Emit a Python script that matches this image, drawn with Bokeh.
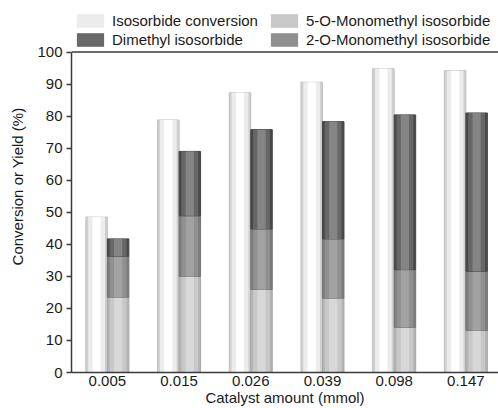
import numpy as np
from bokeh.plotting import figure
from bokeh.models import ColumnDataSource, Range1d, FixedTicker, Legend, LegendItem, Span
from bokeh.embed import file_html
from bokeh.resources import INLINE

# ---- data ----
catalyst = ["0.005", "0.015", "0.026", "0.039", "0.098", "0.147"]
conversion = [48.5, 78.8, 87.3, 90.6, 94.8, 94.2]
mono5 = [23.5, 30.0, 25.9, 23.2, 14.1, 13.1]
mono2 = [12.8, 18.9, 18.9, 18.5, 18.0, 18.5]
dimethyl = [5.4, 20.1, 31.0, 36.6, 48.3, 49.4]
y_ticks = [0, 10, 20, 30, 40, 50, 60, 70, 80, 90, 100]
Y_MAX = 100
Y_TOP = 116.1  # headroom above the frame line for the legend

FONT = "Liberation Sans"
idx = np.arange(len(catalyst))
bw = 0.3
x_conv = idx - bw / 2
x_stack = idx + bw / 2

m5 = np.array(mono5)
m2 = np.array(mono2)
dm = np.array(dimethyl)
src = ColumnDataSource(dict(
    xc=x_conv, xs=x_stack, conv=conversion,
    zero=np.zeros(len(idx)), t5=m5, t2=m5 + m2, td=m5 + m2 + dm,
))

p = figure(width=498, height=408, output_backend="svg", toolbar_location=None,
           x_range=Range1d(-0.5, 5.455), y_range=Range1d(0, Y_TOP),
           min_border_left=71, min_border_right=0, min_border_top=0, min_border_bottom=36)
p.grid.visible = False
p.outline_line_color = None
p.background_fill_color = "white"
p.border_fill_color = "white"

def shaded(x, bottom, top, base, mid, hl, line):
    p.vbar(x=x, bottom=bottom, top=top, width=bw, source=src,
           fill_color=base, line_color=line, line_width=1)
    r2 = p.vbar(x=x, bottom=bottom, top=top, width=bw * 0.78, source=src,
                fill_color=mid, line_color=None)
    p.vbar(x=x, bottom=bottom, top=top, width=bw * 0.38, source=src,
           fill_color=hl, line_color=None)
    return r2

r_conv = shaded("xc", "zero", "conv", "#d0d0d0", "#ececec", "#ffffff", "#c0c0c0")
r_m5 = shaded("xs", "zero", "t5", "#b4b4b4", "#c8c8c8", "#d8d8d8", "#a8a8a8")
r_m2 = shaded("xs", "t5", "t2", "#7c7c7c", "#909090", "#a2a2a2", "#747474")
r_dm = shaded("xs", "t2", "td", "#4a4a4a", "#676767", "#858585", "#444444")

p.add_layout(Span(location=Y_MAX, dimension="width", line_color="#3a3a3a", line_width=1.5))

# axes
p.xaxis.ticker = FixedTicker(ticks=list(idx))
p.xaxis.major_label_overrides = {int(i): c for i, c in zip(idx, catalyst)}
p.xaxis.major_tick_out = 0
p.xaxis.major_tick_in = 0
p.xaxis.minor_tick_line_color = None
p.xaxis.axis_label = "Catalyst amount (mmol)"
p.xaxis.major_label_standoff = 3
p.xaxis.axis_label_standoff = 0

p.yaxis.ticker = FixedTicker(ticks=y_ticks)
p.yaxis.bounds = (0, Y_MAX)
p.yaxis.major_tick_out = 5
p.yaxis.major_tick_in = 0
p.yaxis.minor_tick_line_color = None
p.yaxis.axis_label = "Conversion or Yield (%)"
p.yaxis.major_label_standoff = 4
p.yaxis.axis_label_standoff = 8

for ax in (p.xaxis[0], p.yaxis[0]):
    ax.axis_line_color = "#3a3a3a"
    ax.axis_line_width = 1.5
    ax.major_tick_line_color = "#3a3a3a"
    ax.major_tick_line_width = 1.5
    ax.major_label_text_font = FONT
    ax.major_label_text_font_size = "15px"
    ax.major_label_text_color = "#1a1a1a"
    ax.axis_label_text_font = FONT
    ax.axis_label_text_font_size = "15px"
    ax.axis_label_text_font_style = "normal"
    ax.axis_label_text_color = "#1a1a1a"

leg_style = dict(orientation="vertical",
                 glyph_width=34, glyph_height=17, label_height=17, label_standoff=5,
                 spacing=2, padding=4, margin=0, border_line_color=None,
                 background_fill_alpha=0, label_text_font=FONT, label_text_font_size="15px",
                 label_text_color="#1a1a1a")
LEG_Y = 324
leg1 = Legend(items=[
    LegendItem(label="Isosorbide conversion", renderers=[r_conv]),
    LegendItem(label="Dimethyl isosorbide", renderers=[r_dm]),
], location=(2, LEG_Y), **leg_style)
leg2 = Legend(items=[
    LegendItem(label="5-O-Monomethyl isosorbide", renderers=[r_m5]),
    LegendItem(label="2-O-Monomethyl isosorbide", renderers=[r_m2]),
], location=(196, LEG_Y), **leg_style)
p.add_layout(leg1)
p.add_layout(leg2)

open("out.html", "w").write(file_html(p, INLINE))
